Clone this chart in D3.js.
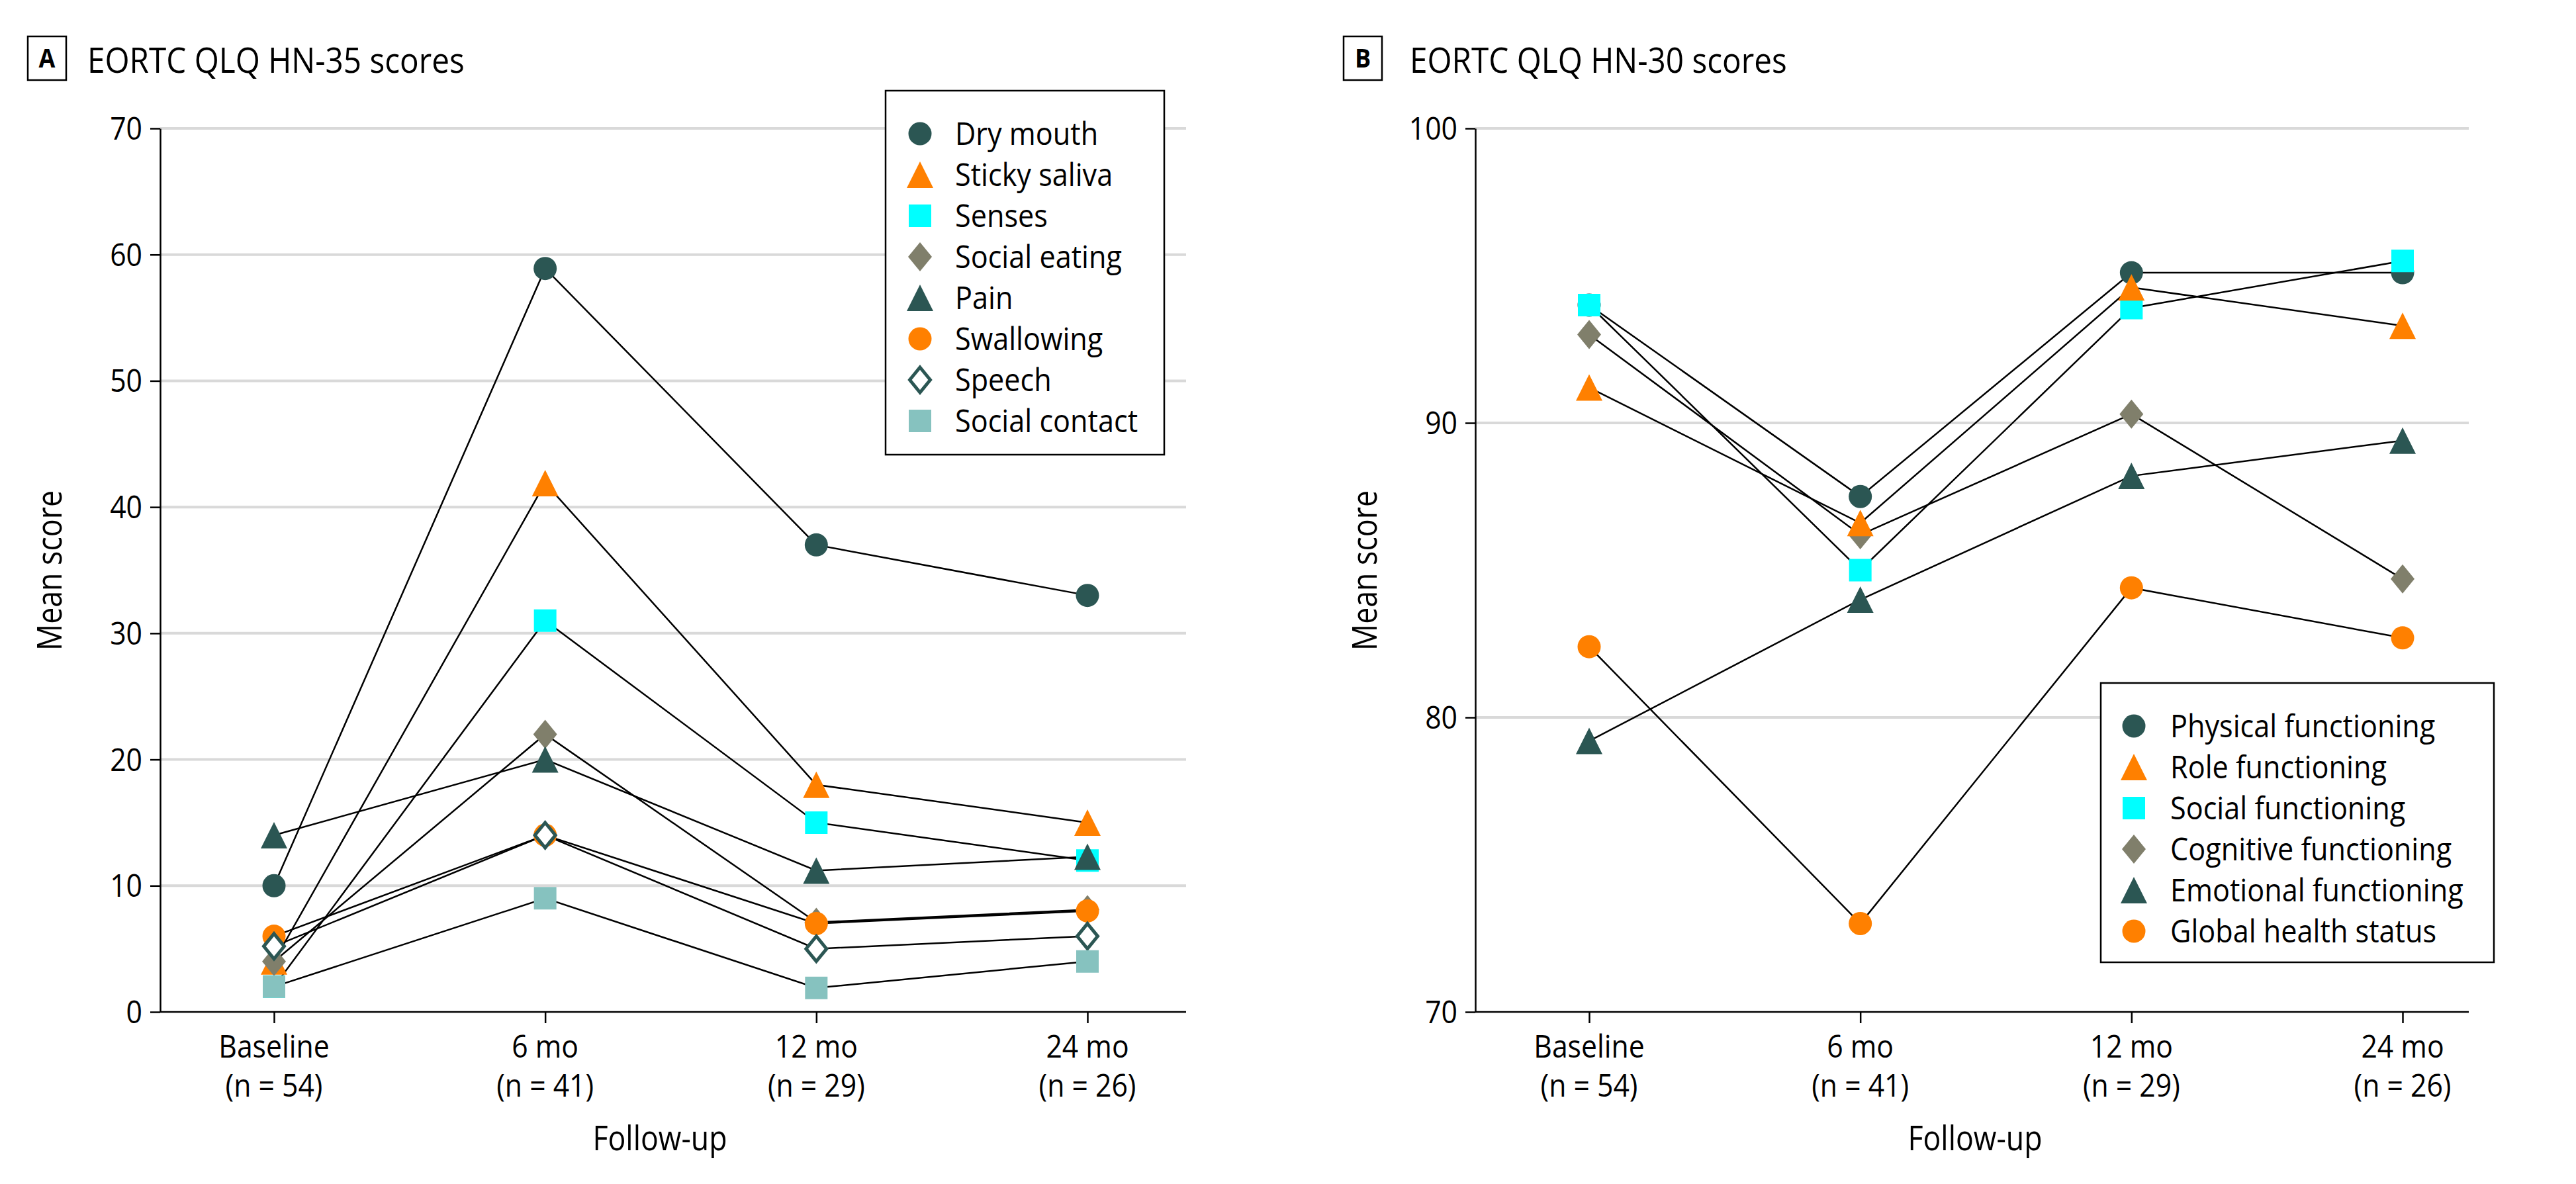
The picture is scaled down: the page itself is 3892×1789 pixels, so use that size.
<!DOCTYPE html>
<html><head><meta charset="utf-8">
<script src="https://cdn.jsdelivr.net/npm/d3@7"></script>
<style>
body{margin:0;background:#fff}
text{font-family:"Open Sans","Noto Sans",sans-serif;fill:#000}
</style>
</head><body>
<svg id="chart" width="3892" height="1789"></svg>
<script>
// ---------- data ----------
const timepoints = ["Baseline", "6 mo", "12 mo", "24 mo"];
const sampleSizes = ["(n = 54)", "(n = 41)", "(n = 29)", "(n = 26)"];

const hn35Names = ["Dry mouth", "Sticky saliva", "Senses", "Social eating", "Pain", "Swallowing", "Speech", "Social contact"];
const dryMouth      = [10, 58.9, 37, 33];
const stickySaliva  = [4, 41.9, 18, 15];
const senses        = [2, 31, 15, 12];
const socialEating  = [4, 22, 7.1, 8.1];
const pain          = [14, 20, 11.2, 12.3];
const swallowing    = [6, 14, 7, 8];
const speech        = [5.2, 14, 5, 6];
const socialContact = [2, 9, 1.9, 4];
const hn35Ticks = [0, 10, 20, 30, 40, 50, 60, 70];

const hn30Names = ["Physical functioning", "Role functioning", "Social functioning", "Cognitive functioning", "Emotional functioning", "Global health status"];
const physicalFn  = [94, 87.5, 95.1, 95.1];
const roleFn      = [91.2, 86.6, 94.6, 93.3];
const socialFn    = [94, 85, 93.9, 95.5];
const cognitiveFn = [93, 86.2, 90.3, 84.7];
const emotionalFn = [79.2, 84, 88.2, 89.4];
const globalHealth= [82.4, 73, 84.4, 82.7];
const hn30Ticks = [70, 80, 90, 100];

// ---------- styles ----------
const TEAL = "#2b5653", ORANGE = "#ff8000", CYAN = "#00ffff", TAUPE = "#807f6b", SEAFOAM = "#86c2bf";
const hn35Style = [
  {shape: "circle", color: TEAL},
  {shape: "triangle", color: ORANGE},
  {shape: "square", color: CYAN},
  {shape: "diamond", color: TAUPE},
  {shape: "triangle", color: TEAL},
  {shape: "circle", color: ORANGE},
  {shape: "diamondOpen", color: TEAL},
  {shape: "square", color: SEAFOAM}
];
const hn30Style = [
  {shape: "circle", color: TEAL},
  {shape: "triangle", color: ORANGE},
  {shape: "square", color: CYAN},
  {shape: "diamond", color: TAUPE},
  {shape: "triangle", color: TEAL},
  {shape: "circle", color: ORANGE}
];

const SX = 0.89; // horizontal text compression to mimic condensed face

const svg = d3.select("#chart");

function txt(g, x, y, s, size, anchor, opts = {}) {
  const t = g.append("text")
    .attr("transform", `translate(${x},${y}) rotate(${opts.rotate || 0}) scale(${opts.sx || SX},1)`)
    .attr("text-anchor", anchor)
    .attr("font-size", size)
    .text(s);
  if (opts.weight) t.attr("font-weight", opts.weight);
  return t;
}

function drawMarker(g, shape, color, x, y) {
  let el;
  if (shape === "circle") {
    el = g.append("circle").attr("cx", x).attr("cy", y).attr("r", 17.5).attr("fill", color);
  } else if (shape === "triangle") {
    el = g.append("path").attr("d", "M0,-20L20,20L-20,20Z").attr("fill", color);
  } else if (shape === "square") {
    el = g.append("path").attr("d", "M-17,-17h34v34h-34Z").attr("fill", color);
  } else if (shape === "diamond") {
    el = g.append("path").attr("d", "M0,-22L18,0L0,22L-18,0Z").attr("fill", color);
  } else if (shape === "diamondOpen") {
    el = g.append("path").attr("d", "M0,-19L15.5,0L0,19L-15.5,0Z").attr("fill", "#fff")
      .attr("stroke", color).attr("stroke-width", 5);
  }
  if (shape !== "circle") el.attr("transform", `translate(${x},${y})`);
}

function panel(cfg) {
  const g = svg.append("g");
  const y = d3.scaleLinear().domain(cfg.domain).range([1529, 194]);
  const x = d3.scalePoint().domain(timepoints).range([cfg.axisX + 172, cfg.axisX + 1401]);

  // gridlines
  g.selectAll(".grid").data(cfg.ticks.filter(t => t !== cfg.domain[0])).enter()
    .append("line").attr("x1", cfg.axisX).attr("x2", cfg.rightX)
    .attr("y1", d => y(d)).attr("y2", d => y(d))
    .attr("stroke", "#d9d9d9").attr("stroke-width", 4);

  // y axis
  const ya = g.append("g").attr("transform", `translate(${cfg.axisX},0)`)
    .call(d3.axisLeft(y).tickValues(cfg.ticks).tickSize(15).tickSizeOuter(0).tickFormat(""));
  ya.select(".domain").attr("stroke", "#000").attr("stroke-width", 2.5);
  ya.selectAll(".tick line").attr("stroke", "#000").attr("stroke-width", 2.5);
  cfg.ticks.forEach(t => txt(g, cfg.axisX - 27, y(t) + 17, String(t), 48, "end"));

  // x axis
  g.append("line").attr("x1", cfg.axisX).attr("x2", cfg.rightX).attr("y1", 1529).attr("y2", 1529)
    .attr("stroke", "#000").attr("stroke-width", 2.5);
  const xa = g.append("g").attr("transform", "translate(0,1529)")
    .call(d3.axisBottom(x).tickSize(17).tickSizeOuter(0).tickFormat(""));
  xa.select(".domain").remove();
  xa.selectAll(".tick line").attr("stroke", "#000").attr("stroke-width", 2.5);
  timepoints.forEach((t, i) => {
    txt(g, x(t), 1598, t, 48, "middle");
    txt(g, x(t), 1657, sampleSizes[i], 48, "middle");
  });

  // axis titles
  txt(g, cfg.axisX - 167, 862, "Mean score", 52, "middle", {rotate: -90, sx: 0.86}).attr("dy", "0.35em");
  txt(g, cfg.axisX + 755, 1738, "Follow-up", 52, "middle", {sx: 0.86});

  // panel title
  g.append("rect").attr("x", cfg.boxX).attr("y", 55).attr("width", 58).attr("height", 66)
    .attr("fill", "none").attr("stroke", "#000").attr("stroke-width", 2.5);
  txt(g, cfg.boxX + 29, 102, cfg.letter, 40, "middle", {weight: 700, sx: 0.9});
  txt(g, cfg.titleX, 110, cfg.title, 53, "start", {sx: 0.9});

  // lines
  const line = d3.line().x((d, i) => x(timepoints[i])).y(d => y(d));
  cfg.series.forEach(s => {
    g.append("path").attr("d", line(s)).attr("fill", "none").attr("stroke", "#000").attr("stroke-width", 2.5);
  });
  // markers
  cfg.order.forEach(k => {
    const s = cfg.series[k], st = cfg.styles[k];
    s.forEach((v, i) => drawMarker(g, st.shape, st.color, x(timepoints[i]), y(v)));
  });

  // legend
  const L = cfg.legend;
  g.append("rect").attr("x", L.x0).attr("y", L.y0).attr("width", L.x1 - L.x0).attr("height", L.y1 - L.y0)
    .attr("fill", "#fff").attr("stroke", "#000").attr("stroke-width", 2.5);
  cfg.names.forEach((n, i) => {
    const cy = L.firstY + i * L.step;
    drawMarker(g, cfg.styles[i].shape, cfg.styles[i].color, L.markerX, cy);
    txt(g, L.textX, cy + 17, n, 48, "start", {sx: 0.9});
  });
}

panel({
  axisX: 242, rightX: 1792, domain: [0, 70], ticks: hn35Ticks, letter: "A",
  boxX: 42, titleX: 132,
  title: "EORTC QLQ HN-35 scores",
  series: [dryMouth, stickySaliva, senses, socialEating, pain, swallowing, speech, socialContact],
  styles: hn35Style, names: hn35Names, order: [0, 1, 2, 3, 4, 5, 6, 7],
  legend: {x0: 1338, x1: 1759, y0: 137, y1: 687, firstY: 202, step: 62, markerX: 1390, textX: 1443}
});

panel({
  axisX: 2229, rightX: 3730, domain: [70, 100], ticks: hn30Ticks, letter: "B",
  boxX: 2030, titleX: 2130,
  title: "EORTC QLQ HN-30 scores",
  series: [physicalFn, roleFn, socialFn, cognitiveFn, emotionalFn, globalHealth],
  styles: hn30Style, names: hn30Names, order: [0, 2, 3, 4, 5, 1],
  legend: {x0: 3174, x1: 3768, y0: 1032, y1: 1454, firstY: 1097, step: 62, markerX: 3224, textX: 3279}
});
</script>
</body></html>
